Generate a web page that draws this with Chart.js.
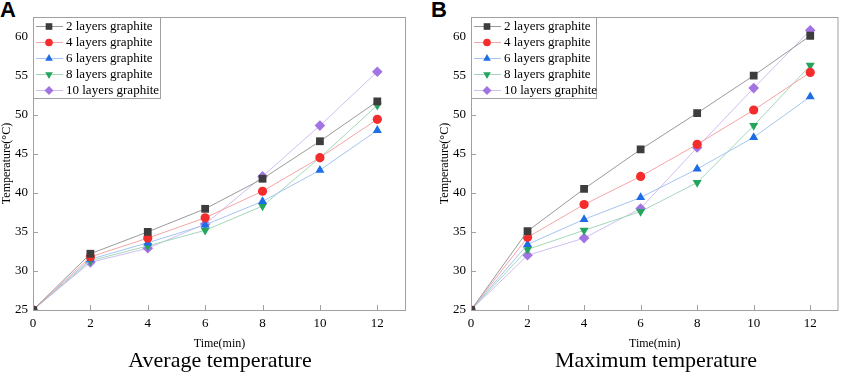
<!DOCTYPE html>
<html>
<head>
<meta charset="utf-8">
<script src="https://cdn.jsdelivr.net/npm/chart.js@4.4.0/dist/chart.umd.min.js"></script>
<style>
  body { margin: 0; background: #fff; width: 844px; height: 373px; overflow: hidden; position: relative; }
  .panel { position: absolute; top: 0; height: 355px; }
  .letter { position: absolute; top: -3px; font: bold 22px "Liberation Sans", Arial, sans-serif; color: #000; }
  .caption { position: absolute; top: 348px; font: 22px "Liberation Serif", "Times New Roman", serif; line-height: 24px; text-align: center; color: #000; }
</style>
</head>
<body>
<div class="letter" style="left:0px">A</div>
<div class="letter" style="left:431px">B</div>
<div class="panel" style="left:0px;width:420px"><canvas id="chartA"></canvas></div>
<div class="panel" style="left:438px;width:406px"><canvas id="chartB"></canvas></div>
<div class="caption" style="left:20px;width:400px">Average temperature</div>
<div class="caption" style="left:456px;width:400px">Maximum temperature</div>
<script>
const times = [0, 2, 4, 6, 8, 10, 12];
const seriesNames = ["2 layers graphite", "4 layers graphite", "6 layers graphite", "8 layers graphite", "10 layers graphite"];

// average temperature (A)
const avg2 = [25, 32.2, 35.0, 37.95, 41.8, 46.6, 51.7];
const avg4 = [25, 31.8, 34.2, 36.8, 40.2, 44.5, 49.4];
const avg6 = [25, 31.5, 33.6, 35.9, 38.9, 42.9, 48.0];
const avg8 = [25, 31.3, 33.2, 35.2, 38.3, 44.5, 51.2];
const avg10 = [25, 31.1, 32.9, 36.0, 42.1, 48.6, 55.5];

// maximum temperature (B)
const max2 = [25, 35.1, 40.5, 45.55, 50.2, 55.0, 60.1];
const max4 = [25, 34.3, 38.5, 42.1, 46.2, 50.6, 55.4];
const max6 = [25, 33.4, 36.6, 39.4, 43.05, 47.1, 52.3];
const max8 = [25, 32.75, 35.2, 37.6, 41.3, 48.6, 56.3];
const max10 = [25, 32.0, 34.2, 38.0, 45.8, 53.4, 60.8];

const markerColors = ["#3d3d3d", "#f52c2c", "#1d6de6", "#25a45e", "#a274e2"];
const lineColors = ["#9a9a9a", "#f4a6a6", "#a6c4f2", "#a2d8b8", "#d2bdf2"];
const markerStyles = ["rect", "circle", "triangle", "triangle", "rectRot"];
const markerRotation = [0, 0, 0, 180, 0];
const markerRadius = [5.5, 4.6, 5.2, 5.2, 5.3];

const serif = '"Liberation Serif", "Times New Roman", serif';
const frameColor = "#a0a0a0";

function toPoints(values) {
  return times.map((t, i) => ({ x: t, y: values[i] }));
}

function makeDatasets(allSeries) {
  return allSeries.map((values, i) => ({
    label: seriesNames[i],
    data: toPoints(values),
    borderColor: lineColors[i],
    borderWidth: 1,
    backgroundColor: markerColors[i],
    pointBackgroundColor: markerColors[i],
    pointBorderWidth: 0,
    pointBorderColor: markerColors[i],
    pointStyle: markerStyles[i],
    rotation: markerRotation[i],
    pointRadius: markerRadius[i],
    tension: 0
  }));
}

// frame, inward ticks and boxed legend in the top-left corner
const framePlugin = {
  id: "frame",
  afterDraw(chart) {
    const ctx = chart.ctx;
    const a = chart.chartArea;
    const xs = chart.scales.x, ys = chart.scales.y;
    ctx.save();
    ctx.strokeStyle = frameColor;
    ctx.lineWidth = 1;
    ctx.strokeRect(a.left + 0.5, a.top + 0.5, a.right - a.left - 1, a.bottom - a.top);
    ctx.beginPath();
    xs.ticks.forEach(t => {
      const px = Math.round(xs.getPixelForValue(t.value)) + 0.5;
      ctx.moveTo(px, a.bottom);
      ctx.lineTo(px, a.bottom - 5);
    });
    ys.ticks.forEach(t => {
      const py = Math.round(ys.getPixelForValue(t.value)) + 0.5;
      ctx.moveTo(a.left, py);
      ctx.lineTo(a.left + 5, py);
    });
    ctx.stroke();

    // legend
    const boxW = chart.options.plugins.frame.boxWidth;
    const rowH = 16;
    const boxH = 81;
    ctx.fillStyle = "#fff";
    ctx.fillRect(a.left + 0.5, a.top + 0.5, boxW, boxH);
    ctx.strokeStyle = frameColor;
    ctx.strokeRect(a.left + 0.5, a.top + 0.5, boxW, boxH);
    ctx.font = "13px " + serif;
    ctx.textBaseline = "middle";
    chart.data.datasets.forEach((ds, i) => {
      const y = a.top + 9 + i * rowH;
      ctx.strokeStyle = ds.borderColor;
      ctx.beginPath();
      ctx.moveTo(a.left + 3, y + 0.5);
      ctx.lineTo(a.left + 30, y + 0.5);
      ctx.stroke();
      ctx.fillStyle = ds.pointBackgroundColor;
      ctx.strokeStyle = ds.pointBackgroundColor;
      Chart.helpers.drawPoint(ctx, { pointStyle: ds.pointStyle, rotation: ds.rotation, radius: ds.pointRadius - 0.8, borderWidth: 0 }, a.left + 16, y + 0.5);
      ctx.fillStyle = "#000";
      ctx.fillText(ds.label, a.left + 33, y + 1);
    });
    ctx.restore();
  }
};

function makeChart(id, allSeries, yWidth, padRight, boxWidth) {
  return new Chart(document.getElementById(id), {
    type: "line",
    data: { datasets: makeDatasets(allSeries) },
    options: {
      responsive: true,
      maintainAspectRatio: false,
      animation: false,
      layout: { padding: { top: 17, right: padRight, left: 0, bottom: 0 } },
      scales: {
        x: {
          type: "linear",
          min: 0,
          max: 13,
          afterBuildTicks: s => { s.ticks = times.map(v => ({ value: v })); },
          afterFit: s => { s.height = 45; },
          grid: { display: false, drawTicks: false },
          border: { display: false },
          ticks: { color: "#000", padding: 6, font: { family: serif, size: 13 } },
          title: { display: true, text: "Time(min)", color: "#000", font: { family: serif, size: 12 }, padding: { top: 4, bottom: 4 } }
        },
        y: {
          type: "linear",
          min: 25,
          max: 62.5,
          afterBuildTicks: s => { s.ticks = [25, 30, 35, 40, 45, 50, 55, 60].map(v => ({ value: v })); },
          afterFit: s => { s.width = yWidth; },
          grid: { display: false, drawTicks: false },
          border: { display: false },
          ticks: { color: "#000", padding: 5, font: { family: serif, size: 13 } },
          title: { display: true, text: "Temperature(°C)", color: "#000", font: { family: serif, size: 12 }, padding: { top: 0, bottom: 0 } }
        }
      },
      plugins: {
        legend: { display: false },
        tooltip: { enabled: false },
        frame: { boxWidth: boxWidth }
      }
    },
    plugins: [framePlugin]
  });
}

makeChart("chartA", [avg2, avg4, avg6, avg8, avg10], 33, 14, 127);
makeChart("chartB", [max2, max4, max6, max8, max10], 33, 2, 125);
</script>
</body>
</html>
